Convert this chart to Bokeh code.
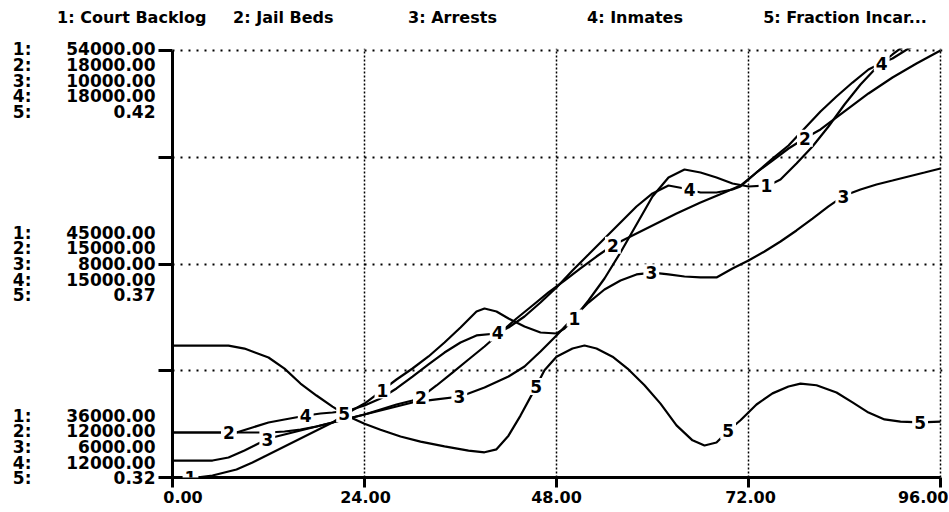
import numpy as np
from bokeh.plotting import figure
from bokeh.models import Range1d, LinearAxis, FixedTicker, Label, Grid
from bokeh.embed import file_html
from bokeh.resources import INLINE

# ---------------- data ----------------
series_names = ["Court Backlog", "Jail Beds", "Arrests", "Inmates", "Fraction Incar..."]

t1 = [0, 3, 5, 8, 10, 12, 14, 16, 18, 20, 22, 24, 26, 28, 30, 32, 34, 36, 38, 39, 40.5, 42, 44, 46, 48,
      49, 50, 52, 54, 56, 58, 60, 62, 64, 66, 68, 70, 72, 74.5, 76, 78, 80, 82, 84, 86, 88, 90, 92, 94, 96]
court_backlog = [36000, 36000, 36084, 36337, 36632, 36970, 37307, 37644, 37981, 38319, 38740, 39119, 39625,
                 40131, 40595, 41101, 41691, 42323, 42998, 43124, 42998, 42703, 42366, 42112, 42070, 42281,
                 42618, 43461, 44389, 45485, 46665, 47846, 48647, 48984, 48858, 48647, 48394, 48268, 48309,
                 48562, 49237, 49953, 50796, 51724, 52567, 53284, 53832, 54337, 54801, 55265]

t2 = [0, 12, 14, 16, 18, 20, 22, 24, 26, 28, 30, 31, 33, 35, 37, 39, 41, 43, 45, 47, 49, 51, 53, 55, 57,
      60, 63, 66, 69, 71, 73, 75, 77, 79, 81, 84, 87, 90, 93, 96]
jail_beds = [12632, 12632, 12646, 12674, 12717, 12773, 12829, 12885, 12956, 13026, 13082, 13124, 13293,
             13475, 13658, 13841, 14037, 14234, 14417, 14600, 14768, 14937, 15105, 15260, 15372, 15541,
             15710, 15864, 16005, 16103, 16286, 16454, 16623, 16764, 16890, 17143, 17396, 17621, 17817, 18000]

t3 = [0, 5, 7, 9, 11, 12, 15, 18, 21, 24, 27, 30, 33, 36, 39, 42, 44, 46, 48, 50, 52, 54, 56, 58, 60,
      62, 64, 66, 68, 70, 72, 74, 76, 78, 80, 82, 84, 86, 88, 90, 92, 94, 96]
arrests = [6159, 6159, 6187, 6253, 6328, 6365, 6422, 6478, 6534, 6590, 6646, 6703, 6731, 6759, 6843, 6946,
           7040, 7180, 7330, 7489, 7639, 7761, 7845, 7902, 7920, 7902, 7883, 7874, 7874, 7958, 8033, 8117,
           8211, 8314, 8426, 8539, 8642, 8698, 8745, 8782, 8820, 8857, 8895]

t4 = [0, 8, 10, 12, 14, 16.75, 18.5, 20, 22, 24, 26, 28, 30, 32, 34, 36, 38, 40.5, 42, 44, 46, 48, 50, 52,
      54, 56, 58, 60, 62, 64, 66, 68, 70, 71, 73, 75, 77, 79, 81, 83, 85, 87, 88.5, 90, 92, 94, 96]
inmates = [12632, 12632, 12703, 12773, 12815, 12871, 12899, 12913, 12941, 13012, 13110, 13251, 13419, 13588,
           13756, 13897, 13996, 14023, 14108, 14262, 14459, 14670, 14909, 15133, 15358, 15583, 15808, 15991,
           16103, 16061, 16005, 16005, 16047, 16089, 16286, 16482, 16665, 16904, 17143, 17354, 17550, 17733,
           17817, 17888, 18028, 18140, 18253]

t5 = [0, 7, 9, 12, 14, 16, 18, 20, 22, 24, 26, 28.5, 31, 34, 37, 39, 40.5, 42, 43.5, 45, 46.5, 48, 50, 51.5,
      53, 55, 57, 59, 61, 63, 65, 66.5, 68, 69.5, 71, 73, 75, 77, 78.5, 80.5, 83, 85, 87, 89, 91, 93.5, 96]
fraction_incarcerated = [0.3509, 0.3509, 0.3502, 0.3481, 0.3455, 0.3420, 0.3392, 0.3366, 0.3343, 0.3326,
                         0.3312, 0.3296, 0.3284, 0.3273, 0.3263, 0.3259, 0.3266, 0.3298, 0.3345, 0.3397,
                         0.3451, 0.3483, 0.3502, 0.3509, 0.3502, 0.3483, 0.3453, 0.3416, 0.3373, 0.3322,
                         0.3287, 0.3275, 0.3282, 0.3310, 0.3334, 0.3371, 0.3397, 0.3413, 0.3420, 0.3416,
                         0.3399, 0.3376, 0.3352, 0.3336, 0.3331, 0.3329, 0.3331]

# scale ranges per series (min, max)
scale_min = [36000, 12000, 6000, 12000, 0.32]
scale_max = [54000, 18000, 10000, 18000, 0.42]

# tick labels
top_labels = ["54000.00", "18000.00", "10000.00", "18000.00", "0.42"]
mid_labels = ["45000.00", "15000.00", "8000.00", "15000.00", "0.37"]
bot_labels = ["36000.00", "12000.00", "6000.00", "12000.00", "0.32"]
x_ticks = [0, 24, 48, 72, 96]
x_tick_labels = ["0.00", "24.00", "48.00", "72.00", "96.00"]

# ---------------- layout (page pixels) ----------------
X0, X1 = 172, 940      # x pixel of time 0 and 96
Y0, Y1 = 477, 50       # y pixel of scale bottom and top
PAD = 2                # extra frame pixels beyond the top / right scale edge
W, H = 948, 510


def tx(px):
    return (px - X0) * 96.0 / (X1 - X0)


def vy(py):
    return 36000 + (Y0 - py) * 18000.0 / (Y0 - Y1)


def ext(lo, hi):
    return Range1d(lo, hi + (hi - lo) * PAD / (Y0 - Y1))


FONT = "DejaVu Sans"

p = figure(width=W, height=H, output_backend="svg", toolbar_location=None,
           x_range=Range1d(0, 96 + 96.0 * PAD / (X1 - X0)),
           y_range=ext(scale_min[0], scale_max[0]),
           x_axis_type=None, y_axis_type=None,
           min_border_left=X0, min_border_right=W - X1 - PAD,
           min_border_top=Y1 - PAD, min_border_bottom=H - Y0)
p.outline_line_color = None
p.background_fill_color = "white"
p.border_fill_color = "white"

range_names = ["default", "s2", "s3", "s4", "s5"]
for k in range(1, 5):
    p.extra_y_ranges[range_names[k]] = ext(scale_min[k], scale_max[k])

# grids
p.add_layout(Grid(dimension=0, ticker=FixedTicker(ticks=[24, 48, 72, 96]),
                  grid_line_color="black", grid_line_width=1.5, grid_line_dash="2 2"))
p.add_layout(Grid(dimension=1, ticker=FixedTicker(ticks=[40500, 45000, 49500, 54000]),
                  grid_line_color="black", grid_line_width=2, grid_line_dash="2 6"))

# bottom axis: minor ticks mark the times, major (invisible) ticks carry the labels
x_label_px = [182.5, 365, 556, 750, 923]
x_label_pos = [tx(v) for v in x_label_px]
xaxis = LinearAxis(ticker=FixedTicker(ticks=x_label_pos, minor_ticks=x_ticks),
                   axis_line_width=3, axis_line_color="black", bounds=(0, 96),
                   major_tick_line_color=None, major_tick_out=10, major_tick_in=0,
                   minor_tick_line_color="black", minor_tick_line_width=3, minor_tick_out=10, minor_tick_in=0,
                   major_label_overrides={x_label_pos[i]: x_tick_labels[i] for i in range(5)},
                   major_label_standoff=3, major_label_text_font=FONT, major_label_text_font_size="16px",
                   major_label_text_font_style="bold", major_label_text_color="black")
p.add_layout(xaxis, "below")

# left axis: minor ticks at the five grid levels, major (invisible) ticks at the block centres
levels = [36000, 40500, 45000, 49500, 54000]
block_pos = [round(vy(80)), 45000, round(vy(446.5))]
block_text = ["\n".join(top_labels), "\n".join(mid_labels), "\n".join(bot_labels)]
LINE_H = 0.78
yaxis = LinearAxis(ticker=FixedTicker(ticks=block_pos, minor_ticks=levels),
                   axis_line_width=3, axis_line_color="black", bounds=(36000, 54000),
                   major_tick_line_color=None, major_tick_out=14, major_tick_in=0,
                   minor_tick_line_color="black", minor_tick_line_width=3, minor_tick_out=14, minor_tick_in=0,
                   major_label_overrides={block_pos[i]: block_text[i] for i in range(3)},
                   major_label_standoff=3, major_label_text_font=FONT, major_label_text_font_size="17px",
                   major_label_text_font_style="bold", major_label_text_color="black",
                   major_label_text_line_height=LINE_H)
p.add_layout(yaxis, "left")
num_text = "\n".join(f"{k + 1}:" for k in range(5))
naxis = LinearAxis(ticker=FixedTicker(ticks=block_pos, minor_ticks=[]),
                   axis_line_color=None, major_tick_line_color=None, major_tick_out=0, major_tick_in=0,
                   minor_tick_line_color=None,
                   major_label_overrides={block_pos[i]: num_text for i in range(3)},
                   major_label_standoff=32, major_label_text_font=FONT, major_label_text_font_size="17px",
                   major_label_text_font_style="bold", major_label_text_color="black",
                   major_label_text_line_height=LINE_H)
p.add_layout(naxis, "left")

# series lines
ts = [t1, t2, t3, t4, t5]
vs = [court_backlog, jail_beds, arrests, inmates, fraction_incarcerated]
for k in range(5):
    p.line(ts[k], vs[k], line_color="black", line_width=2.2, y_range_name=range_names[k])

# curve number labels (STELLA style: staggered along each curve)
for k in range(5):
    for n in range(4):
        tl = 2.25 + 4.8 * k + 24 * n
        yl = float(np.interp(tl, ts[k], vs[k]))
        p.add_layout(Label(x=tl, y=yl, y_range_name=range_names[k], text=str(k + 1),
                           text_align="center", text_baseline="middle", text_font=FONT,
                           text_font_size="17px", text_font_style="bold", text_color="black",
                           background_fill_color="white", padding=2))

# legend row across the top, written as the labels of a bare axis above the plot
# (entries 1 and 2 share one label because entry 1 starts left of the plotting area)
EM, EN, SIXTH = "\u2003", "\u2002", "\u2006"
entries = [f"{k + 1}: {series_names[k]}" for k in range(5)]
legend_labels = [entries[0] + EM + EN + SIXTH + entries[1], entries[2], entries[3], entries[4]]
legend_centres_px = [194.8, 452, 634.5, 844.5]
legend_pos = [tx(v) for v in legend_centres_px]
laxis = LinearAxis(ticker=FixedTicker(ticks=legend_pos, minor_ticks=[]),
                   axis_line_color=None, major_tick_line_color=None, major_tick_out=0, major_tick_in=0,
                   minor_tick_line_color=None,
                   major_label_overrides={legend_pos[i]: legend_labels[i] for i in range(4)},
                   major_label_standoff=22, major_label_text_font=FONT, major_label_text_font_size="16px",
                   major_label_text_font_style="bold", major_label_text_color="black")
p.add_layout(laxis, "above")

open("out.html", "w").write(file_html(p, INLINE))
